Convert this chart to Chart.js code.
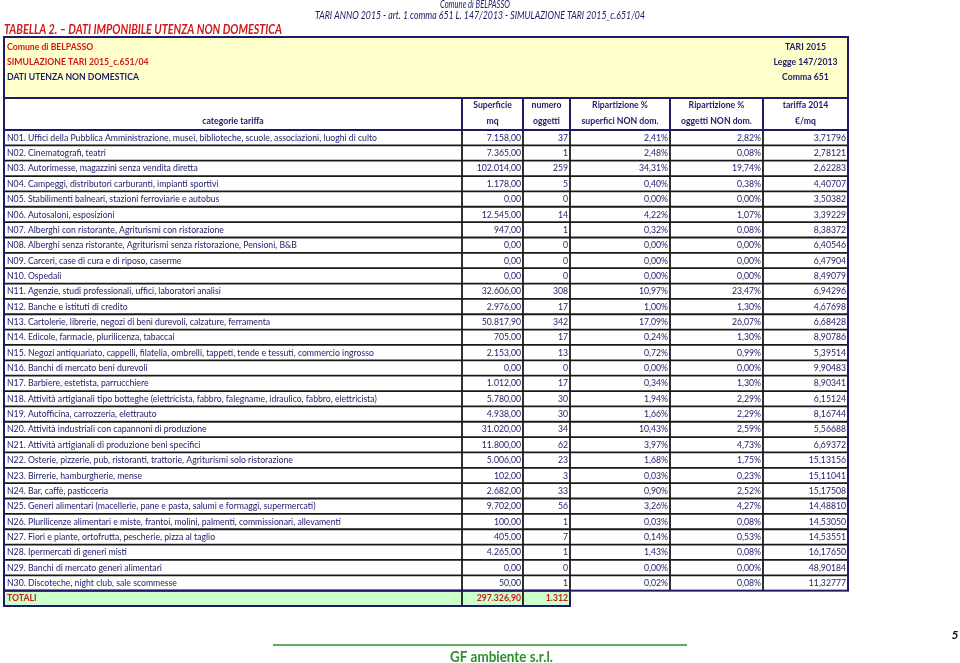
<!DOCTYPE html>
<html>
<head>
<meta charset="utf-8">
<script src="https://cdn.jsdelivr.net/npm/chart.js@4.4.0/dist/chart.umd.min.js"></script>
<style>
body{margin:0;background:#fff;}
#box{position:relative;width:960px;height:663px;}
</style>
</head>
<body>
<div id="box"><canvas id="tabChart" width="960" height="663"></canvas></div>
<script>
// ========== Data ==========
const codici=['N01','N02','N03','N04','N05','N06','N07','N08','N09','N10','N11','N12','N13','N14','N15',
'N16','N17','N18','N19','N20','N21','N22','N23','N24','N25','N26','N27','N28','N29','N30'];
const descrizioni=[
'Uffici della Pubblica Amministrazione, musei, biblioteche, scuole, associazioni, luoghi di culto',
'Cinematografi, teatri',
'Autorimesse, magazzini senza vendita diretta',
'Campeggi, distributori carburanti, impianti sportivi',
'Stabilimenti balneari, stazioni ferroviarie e autobus',
'Autosaloni, esposizioni',
'Alberghi con ristorante, Agriturismi con ristorazione',
'Alberghi senza ristorante, Agriturismi senza ristorazione, Pensioni, B&B',
'Carceri, case di cura e di riposo, caserme',
'Ospedali',
'Agenzie, studi professionali, uffici, laboratori analisi',
'Banche e istituti di credito',
'Cartolerie, librerie, negozi di beni durevoli, calzature, ferramenta',
'Edicole, farmacie, plurilicenza, tabaccai',
'Negozi antiquariato, cappelli, filatelia, ombrelli, tappeti, tende e tessuti, commercio ingrosso',
'Banchi di mercato beni durevoli',
'Barbiere, estetista, parrucchiere',
'Attività artigianali tipo botteghe (elettricista, fabbro, falegname, idraulico, fabbro, elettricista)',
'Autofficina, carrozzeria, elettrauto',
'Attività industriali con capannoni di produzione',
'Attività artigianali di produzione beni specifici',
'Osterie, pizzerie, pub, ristoranti, trattorie, Agriturismi solo ristorazione',
'Birrerie, hamburgherie, mense',
'Bar, caffè, pasticceria',
'Generi alimentari (macellerie, pane e pasta, salumi e formaggi, supermercati)',
'Plurilicenze alimentari e miste, frantoi, molini, palmenti, commissionari, allevamenti',
'Fiori e piante, ortofrutta, pescherie, pizza al taglio',
'Ipermercati di generi misti',
'Banchi di mercato generi alimentari',
'Discoteche, night club, sale scommesse'];
const superficie=[7158.00,7365.00,102014.00,1178.00,0,12545.00,947.00,0,0,0,32606.00,2976.00,50817.90,705.00,2153.00,
0,1012.00,5780.00,4938.00,31020.00,11800.00,5006.00,102.00,2682.00,9702.00,100.00,405.00,4265.00,0,50.00];
const numero=[37,1,259,5,0,14,1,0,0,0,308,17,342,17,13,0,17,30,30,34,62,23,3,33,56,1,7,1,0,1];
const ripSuperfici=[2.41,2.48,34.31,0.40,0,4.22,0.32,0,0,0,10.97,1.00,17.09,0.24,0.72,
0,0.34,1.94,1.66,10.43,3.97,1.68,0.03,0.90,3.26,0.03,0.14,1.43,0,0.02];
const ripOggetti=[2.82,0.08,19.74,0.38,0,1.07,0.08,0,0,0,23.47,1.30,26.07,1.30,0.99,
0,1.30,2.29,2.29,2.59,4.73,1.75,0.23,2.52,4.27,0.08,0.53,0.08,0,0.08];
const tariffa2014=[3.71796,2.78121,2.62283,4.40707,3.50382,3.39229,8.38372,6.40546,6.47904,8.49079,6.94296,4.67698,6.68428,8.90786,5.39514,
9.90483,8.90341,6.15124,8.16744,5.56688,6.69372,15.13156,15.11041,15.17508,14.48810,14.53050,14.53551,16.17650,48.90184,11.32777];
const totaleSuperficie=297326.90, totaleNumero=1312;
const intestazioni=[['Superficie','mq'],['numero','oggetti'],['Ripartizione %','superfici NON dom.'],
['Ripartizione %','oggetti NON dom.'],['tariffa 2014','€/mq']];

// ========== Layout ==========
const colonne=[0,458,519,566,666,759,844];   // column edges, x-scale units
const NAVY='#1b1b68', RED='#d01818', GREEN='#2f8f2f', LINE='#1a1a1a', FONT='Lato';

// ========== Utility ==========
function $(id){return document.getElementById(id);}
function fmt(v,dec){
    const s=v.toFixed(dec).split('.');
    const i=s[0].replace(/\B(?=(\d{3})+(?!\d))/g,'.');
    return dec?i+','+s[1]:i;
}
function scritta(ctx,s,x,y,font,color,align,sx){
    ctx.save(); ctx.font=font; ctx.fillStyle=color; ctx.textBaseline='middle'; ctx.textAlign=align;
    ctx.translate(x,y); ctx.scale(sx,1); ctx.fillText(s,0,0); ctx.restore();
}
function scrittaLarga(ctx,s,x,y,font,color,w){
    ctx.save(); ctx.font=font; const sx=w/ctx.measureText(s).width; ctx.restore();
    scritta(ctx,s,x,y,font,color,'left',sx);
}
function linea(ctx,x1,y1,x2,y2,col,w){
    ctx.beginPath(); ctx.strokeStyle=col; ctx.lineWidth=w; ctx.moveTo(x1,y1); ctx.lineTo(x2,y2); ctx.stroke();
}

// ========== Table plugin ==========
const tabella={id:'tabella',afterDraw(c){
    const ctx=c.ctx, xs=c.scales.x, ys=c.scales.y, a=c.chartArea;
    const X=v=>xs.getPixelForValue(v);
    const h=ys.getPixelForValue(1)-ys.getPixelForValue(0);
    const top=i=>ys.getPixelForValue(i)-h/2;
    const body='9.5px '+FONT, bold='bold 9.5px '+FONT;
    ctx.save(); ctx.font=body;
    const sx=370/ctx.measureText(codici[0]+'. '+descrizioni[0]).width;
    ctx.restore();

    // page heading
    scrittaLarga(ctx,'Comune di BELPASSO',440,5,'italic 10.5px '+FONT,NAVY,70);
    scrittaLarga(ctx,'TARI ANNO 2015 - art. 1 comma 651 L. 147/2013 - SIMULAZIONE TARI 2015_c.651/04',315,16,'italic 10.5px '+FONT,NAVY,330);
    scrittaLarga(ctx,'TABELLA 2. – DATI IMPONIBILE UTENZA NON DOMESTICA',4,29,'italic bold 14px '+FONT,RED,278);

    // yellow box
    const yb=a.top-93, yh=a.top-32;
    ctx.fillStyle='#ffffcc'; ctx.fillRect(X(0),yb,X(844)-X(0),yh-yb);
    ctx.strokeStyle=NAVY; ctx.lineWidth=2; ctx.strokeRect(X(0),yb,X(844)-X(0),yh-yb);
    scritta(ctx,'Comune di BELPASSO',X(3),yb+10,bold,RED,'left',sx);
    scritta(ctx,'SIMULAZIONE TARI 2015_c.651/04',X(3),yb+25,bold,RED,'left',sx);
    scritta(ctx,'DATI UTENZA NON DOMESTICA',X(3),yb+40,bold,NAVY,'left',sx);
    const cx=(X(759)+X(844))/2;
    scritta(ctx,'TARI 2015',cx,yb+10,bold,NAVY,'center',sx);
    scritta(ctx,'Legge 147/2013',cx,yb+25,bold,NAVY,'center',sx);
    scritta(ctx,'Comma 651',cx,yb+40,bold,NAVY,'center',sx);

    // header row
    scritta(ctx,'categorie tariffa',(X(0)+X(458))/2,yh+23,bold,NAVY,'center',sx);
    intestazioni.forEach((t,k)=>{
        const m=(X(colonne[k+1])+X(colonne[k+2]))/2;
        scritta(ctx,t[0],m,yh+7,bold,NAVY,'center',sx);
        scritta(ctx,t[1],m,yh+23,bold,NAVY,'center',sx);
    });

    // totals background
    const n=codici.length, tTop=top(n), tBot=top(n)+h;
    ctx.fillStyle='#ccffcc'; ctx.fillRect(X(0),tTop,X(566)-X(0),h);

    // rows
    codici.forEach((cod,i)=>{
        const yc=ys.getPixelForValue(i);
        scritta(ctx,cod+'. '+descrizioni[i],X(3),yc,body,NAVY,'left',sx);
        scritta(ctx,fmt(superficie[i],2),X(colonne[2])-2,yc,body,NAVY,'right',sx);
        scritta(ctx,fmt(numero[i],0),X(colonne[3])-2,yc,body,NAVY,'right',sx);
        scritta(ctx,fmt(ripSuperfici[i],2)+'%',X(colonne[4])-2,yc,body,NAVY,'right',sx);
        scritta(ctx,fmt(ripOggetti[i],2)+'%',X(colonne[5])-2,yc,body,NAVY,'right',sx);
        scritta(ctx,fmt(tariffa2014[i],5),X(colonne[6])-2,yc,body,NAVY,'right',sx);
        if(i>0) linea(ctx,X(0),top(i),X(844),top(i),LINE,1.8);
    });
    const yT=ys.getPixelForValue(n);
    scritta(ctx,'TOTALI',X(3),yT,bold,RED,'left',sx);
    scritta(ctx,fmt(totaleSuperficie,2),X(colonne[2])-2,yT,bold,RED,'right',sx);
    scritta(ctx,fmt(totaleNumero,0),X(colonne[3])-2,yT,bold,RED,'right',sx);

    // column lines
    [1,2,3].forEach(k=>linea(ctx,X(colonne[k]),yh,X(colonne[k]),tBot,LINE,1.8));
    [4,5].forEach(k=>linea(ctx,X(colonne[k]),yh,X(colonne[k]),tTop,LINE,1.8));
    [1,2,3,4,5].forEach(k=>linea(ctx,X(colonne[k]),yh,X(colonne[k]),a.top,NAVY,1.8));

    // borders
    ctx.strokeStyle=NAVY; ctx.lineWidth=2;
    ctx.strokeRect(X(0),yh,X(844)-X(0),a.top-yh);
    ctx.strokeRect(X(0),a.top,X(844)-X(0),tTop-a.top);
    ctx.strokeRect(X(0),tTop,X(566)-X(0),h);

    // footer
    linea(ctx,273,645,687,645,GREEN,1.5);
    scrittaLarga(ctx,'GF ambiente s.r.l.',450,657,'bold 15px '+FONT,GREEN,103);
    scritta(ctx,'5',955,635,'italic bold 12px '+FONT,'#111','center',1);
}};

// ========== Chart ==========
new Chart($('tabChart'),{
    type:'bar',
    data:{labels:codici.concat(['TOTALI']),datasets:[]},
    options:{
        responsive:false,animation:false,indexAxis:'y',devicePixelRatio:1,
        layout:{padding:{top:130,bottom:57,left:4,right:112}},
        plugins:{legend:{display:false},tooltip:{enabled:false}},
        scales:{
            x:{type:'linear',min:0,max:844,display:false},
            y:{type:'category',offset:true,display:false}
        }
    },
    plugins:[tabella]
});
</script>
</body>
</html>
